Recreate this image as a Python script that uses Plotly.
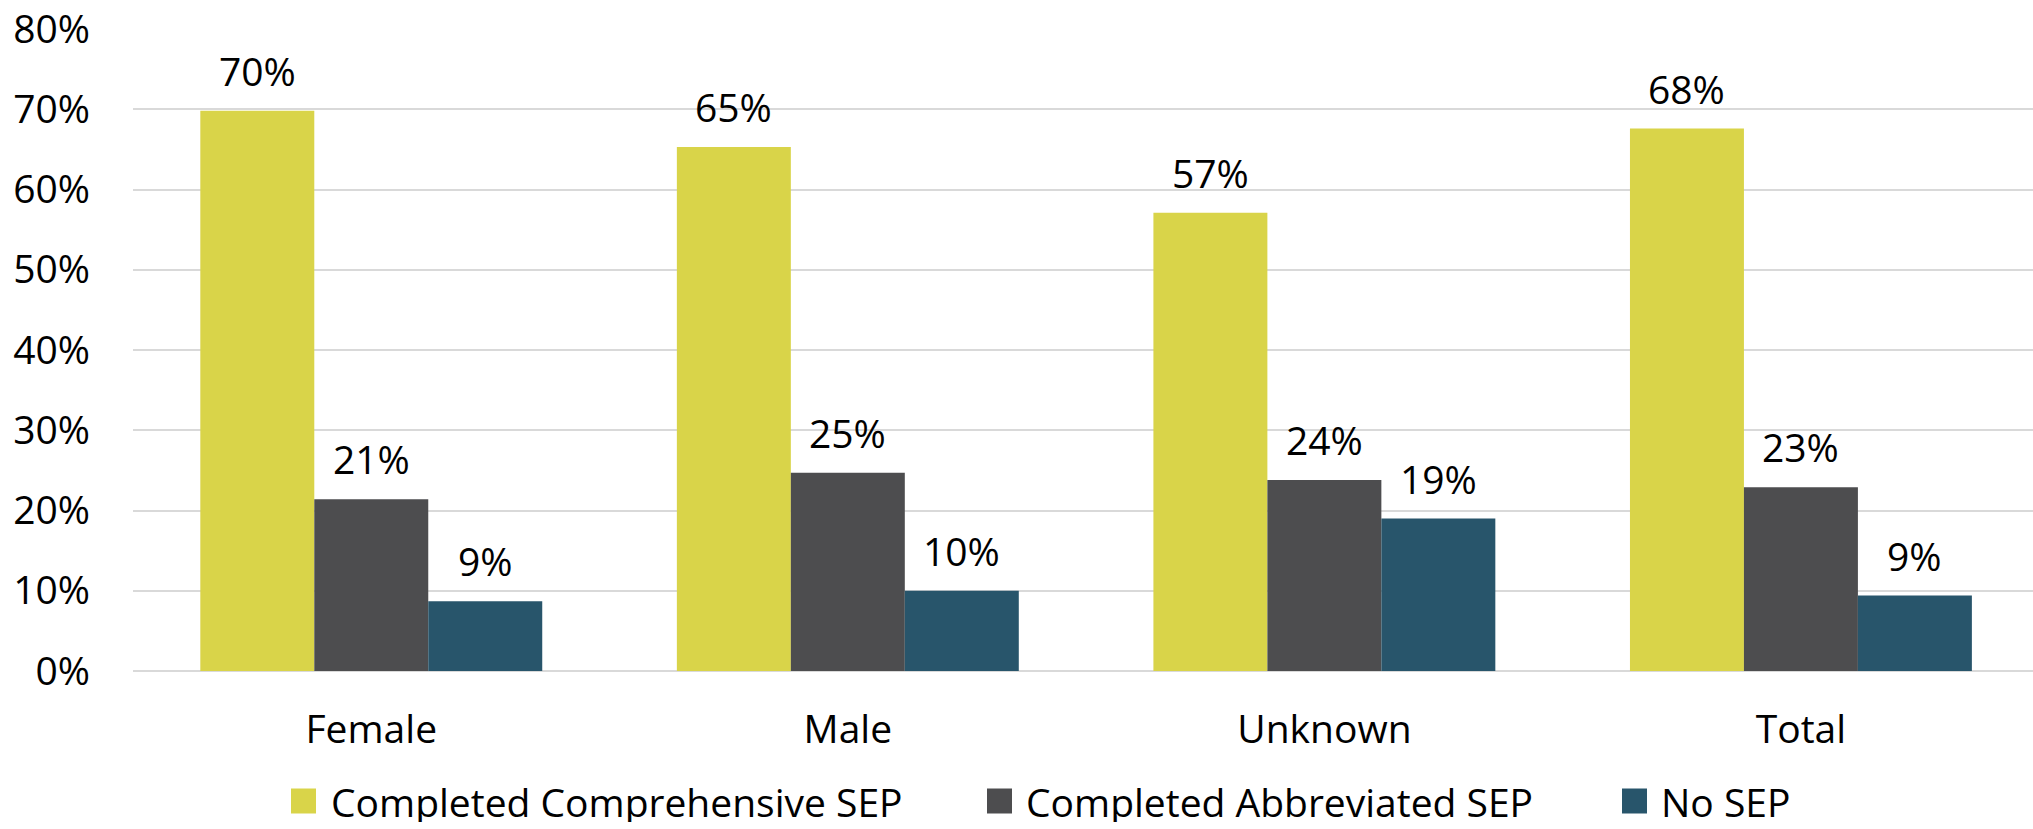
import plotly.graph_objects as go

# ---- data ----
categories = ["Female", "Male", "Unknown", "Total"]
series_names = ["Completed Comprehensive SEP", "Completed Abbreviated SEP", "No SEP"]
comprehensive = [0.698, 0.653, 0.571, 0.676]
abbreviated = [0.214, 0.247, 0.238, 0.229]
no_sep = [0.087, 0.100, 0.190, 0.094]
y_ticks = [0, 0.1, 0.2, 0.3, 0.4, 0.5, 0.6, 0.7, 0.8]

series_values = [comprehensive, abbreviated, no_sep]
colors = ["#D9D449", "#4D4D4F", "#28556B"]

FONT = "Open Sans"
FS = 39
W, H = 2033, 829
ML, MR, MT, MB = 133, 0, 29, 158
BARGAP = 0.2825

fig = go.Figure()
for name, vals, col in zip(series_names, series_values, colors):
    fig.add_trace(go.Bar(
        x=categories, y=vals, name=name,
        marker=dict(color=col, line=dict(width=0)),
        showlegend=False,
    ))

# data labels above bars
n = len(series_values)
bw = (1 - BARGAP) / n
annotations = []
for j, vals in enumerate(series_values):
    for i, v in enumerate(vals):
        annotations.append(dict(
            x=i + (j - (n - 1) / 2) * bw, y=v, xref="x", yref="y",
            text=f"{round(v * 100):d}%", showarrow=False,
            yanchor="bottom", xanchor="center", yshift=12,
            font=dict(family=FONT, size=FS, color="#000000"),
        ))

# manual legend (large squares like the original)
plot_w = W - ML - MR
plot_h = H - MT - MB
def px_x(p):
    return (p - ML) / plot_w
def px_y(p):
    return (H - MB - p) / plot_h

sq_left = [291, 987, 1622]
txt_left = [330, 1025, 1660]
sq_size = 25
leg_cy = 801
shapes = []
for k, (name, col) in enumerate(zip(series_names, colors)):
    shapes.append(dict(
        type="rect", xref="paper", yref="paper",
        x0=px_x(sq_left[k]), x1=px_x(sq_left[k] + sq_size),
        y0=px_y(leg_cy + sq_size / 2), y1=px_y(leg_cy - sq_size / 2),
        fillcolor=col, line=dict(width=0),
    ))
    annotations.append(dict(
        x=px_x(txt_left[k]), y=px_y(leg_cy), xref="paper", yref="paper",
        text=name, showarrow=False, xanchor="left", yanchor="middle",
        height=42, valign="middle", borderpad=0,
        font=dict(family=FONT, size=FS, color="#000000"),
    ))

fig.update_layout(
    width=W, height=H,
    margin=dict(l=ML, r=MR, t=MT, b=MB, autoexpand=False),
    paper_bgcolor="white", plot_bgcolor="white",
    barmode="group", bargap=BARGAP, bargroupgap=0,
    font=dict(family=FONT, size=FS, color="#000000"),
    annotations=annotations, shapes=shapes,
    showlegend=False,
)
fig.update_xaxes(
    type="category", range=[-0.5, 3.487], showgrid=False, showline=False,
    ticks="", tickfont=dict(family=FONT, size=FS, color="#000000"),
    ticklabelstandoff=32,
)
fig.update_yaxes(
    range=[0, 0.8], tickvals=y_ticks, tickformat=".0%",
    showgrid=True, gridcolor="#D9D9D9", gridwidth=2,
    zeroline=True, zerolinecolor="#D9D9D9", zerolinewidth=2,
    showline=False, ticks="",
    tickfont=dict(family=FONT, size=FS, color="#000000"),
    ticklabelstandoff=42,
)

fig.write_html(
    "out.html",
    config={"displayModeBar": False},
    post_script="document.body.style.margin='0';document.body.style.overflow='hidden';",
)
